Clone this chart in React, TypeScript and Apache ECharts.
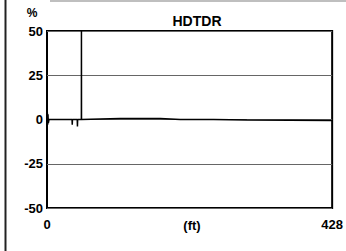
import React, { useEffect, useRef } from "react";
import * as echarts from "echarts";

const distanceFt = [0, 0.5, 1, 1.5, 2, 3, 37.6, 37.9, 38.2, 45.4, 45.7, 46, 51.6, 51.7, 51.8, 80, 110, 170, 200, 250, 300, 428];
const hdtdrPct = [0, 4, -3, 3, -2, 0, 0, -3, 0, 0, -4, 0, 0, 50, 0, 0.3, 0.5, 0.5, 0, 0, -0.3, -0.5];
const yTicks = [-50, -25, 0, 25, 50];
const xRange = [0, 428];

export default function App() {
  const ref = useRef<HTMLDivElement>(null);
  useEffect(() => {
    if (!ref.current) return;
    const chart = echarts.init(ref.current, null, { renderer: "svg" });
    const font = "'Liberation Sans', Arial, sans-serif";
    const txt = { fontFamily: font, fontWeight: "bold", fontSize: 13, color: "#000" };
    chart.setOption({
      animation: false,
      backgroundColor: "#fff",
      title: {
        text: "HDTDR",
        left: 192,
        top: 9,
        textAlign: "center",
        textStyle: { ...txt, fontSize: 14 },
      },
      grid: {
        left: 47, right: 9, top: 31, bottom: 43,
        show: true, borderColor: "#000", borderWidth: 2, backgroundColor: "transparent",
      },
      xAxis: {
        type: "value",
        min: xRange[0],
        max: xRange[1],
        interval: xRange[1],
        axisLine: { show: false },
        axisTick: { show: false },
        splitLine: { show: false },
        axisLabel: { ...txt, margin: 10, showMinLabel: true, showMaxLabel: true },
      },
      yAxis: {
        type: "value",
        min: yTicks[0],
        max: yTicks[yTicks.length - 1],
        interval: 25,
        axisLine: { show: false },
        axisTick: { show: false },
        splitLine: { show: true, lineStyle: { color: "#666", width: 1 } },
        axisLabel: { ...txt, margin: 4 },
      },
      graphic: [
        { type: "line", shape: { x1: 5.5, y1: 0, x2: 5.5, y2: 251 }, style: { stroke: "#222", lineWidth: 2 } },
        { type: "line", shape: { x1: 50, y1: 1, x2: 346, y2: 1 }, style: { stroke: "#aaa", lineWidth: 1.5 } },
        {
          type: "text", x: 32, y: 13,
          style: { text: "%", font: `bold 12px ${font}`, fill: "#000", textAlign: "center", textVerticalAlign: "middle" },
        },
        {
          type: "text", x: 192, y: 225,
          style: { text: "(ft)", font: `bold 13px ${font}`, fill: "#000", textAlign: "center", textVerticalAlign: "middle" },
        },
      ],
      series: [
        {
          type: "line",
          data: distanceFt.map((d, i) => [d, hdtdrPct[i]]),
          showSymbol: false,
          lineStyle: { color: "#000", width: 1.5 },
        },
      ],
    });
    return () => chart.dispose();
  }, []);
  return <div ref={ref} style={{ position: "fixed", left: 0, top: 0, width: 346, height: 251 }} />;
}
